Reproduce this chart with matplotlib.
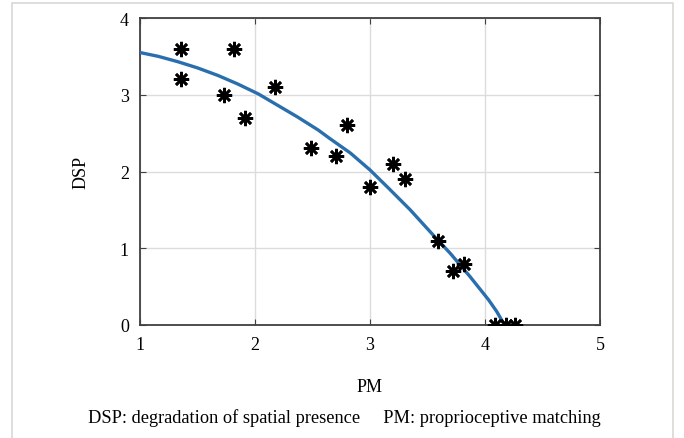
import matplotlib
matplotlib.use("Agg")
import matplotlib.pyplot as plt
from matplotlib.patches import Rectangle

# Observed data points (PM, DSP)
pm_points = [1.36, 1.36, 1.82, 1.73, 1.91, 2.17, 2.49, 2.70, 2.80, 3.00,
             3.20, 3.30, 3.59, 3.72, 3.82, 4.09, 4.18, 4.26]
dsp_points = [3.6, 3.2, 3.6, 3.0, 2.7, 3.1, 2.3, 2.2, 2.6, 1.8,
              2.1, 1.9, 1.1, 0.7, 0.8, 0.0, 0.0, 0.0]

# Fitted curve
curve_pm = [1.00, 1.16, 1.33, 1.50, 1.68, 1.85, 2.03, 2.20, 2.37, 2.55,
            2.65, 2.83, 3.00, 3.17, 3.35, 3.52, 3.70, 3.87, 4.03, 4.10, 4.17]
curve_dsp = [3.55, 3.50, 3.43, 3.35, 3.25, 3.14, 3.01, 2.86, 2.71, 2.54,
             2.43, 2.24, 2.02, 1.77, 1.50, 1.22, 0.93, 0.63, 0.33, 0.18, 0.00]

x_ticks = [1, 2, 3, 4, 5]
y_ticks = [0, 1, 2, 3, 4]

plt.rcParams['font.family'] = ['Liberation Serif', 'DejaVu Serif']

fig = plt.figure(figsize=(6.84, 4.39), dpi=100)
W, H = 684, 439

# outer light frame
fig.patches.append(Rectangle((12 / W, -0.01), (673 - 12) / W, (439 - 4) / H + 0.01,
                             transform=fig.transFigure, fill=False,
                             edgecolor='#d8d8d8', linewidth=1.2))

ax = fig.add_axes([140 / W, (H - 326) / H, (600 - 140) / W, (326 - 19) / H])
ax.plot(curve_pm, curve_dsp, color='#2a6fad', linewidth=2.4, zorder=3,
        solid_joinstyle='round', solid_capstyle='round')
ax.plot(pm_points, dsp_points, linestyle='none', marker=(8, 2, 0),
        markersize=11, markeredgewidth=1.9, color='black', zorder=4)

ax.set_xlim(1, 5)
ax.set_ylim(0, 4)
ax.set_xticks(x_ticks)
ax.set_yticks(y_ticks)
ax.grid(True, color='#dcdcdc', linewidth=1.0)
ax.set_axisbelow(True)
for s in ax.spines.values():
    s.set_color('#404040')
    s.set_linewidth(1.3)
ax.tick_params(direction='in', length=4, width=0.8, color='#404040',
               top=True, right=True, labelsize=13, pad=8)
ax.set_xlabel('PM', fontsize=13, labelpad=18)
ax.set_ylabel('DSP', fontsize=13, labelpad=22)

fig.text(344 / W, 1 - 418 / H,
         'DSP: degradation of spatial presence     PM: proprioceptive matching',
         ha='center', va='center', fontsize=13.2)

fig.savefig('out.png', dpi=100)
